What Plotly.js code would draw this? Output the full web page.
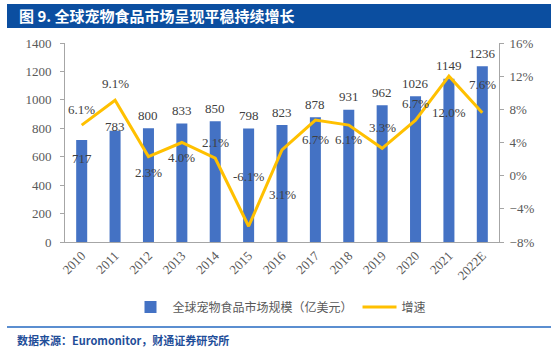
<!DOCTYPE html>
<html>
<head>
<meta charset="utf-8">
<script src="https://cdn.plot.ly/plotly-3.0.1.min.js"></script>
<style>html,body{margin:0;padding:0;background:#fff;}#chart{width:554px;height:348px;}</style>
</head>
<body>
<div id="chart"></div>
<script>
const years = ['2010','2011','2012','2013','2014','2015','2016','2017','2018','2019','2020','2021','2022E'];
const marketSize = [717, 783, 800, 833, 850, 798, 823, 878, 931, 962, 1026, 1149, 1236];
const growth = [6.1, 9.1, 2.3, 4.0, 2.1, -6.1, 3.1, 6.7, 6.1, 3.3, 6.7, 12.0, 7.6];
const barLabelShift = [-18, 4, 13, 13, 13, 13, 13, 13, 13, 13, 13, 13, 13];
const growthLabelShift = [16, 17, -16, -15, 16, 50, -45, -19, -14, 21, 17, -36, 28];

const seriesNames = ['全球宠物食品市场规模（亿美元）', '增速'];
const titleText = '图 9. 全球宠物食品市场呈现平稳持续增长';
const sourceText = '数据来源：Euromonitor，财通证券研究所';

const serif = 'Liberation Serif, Times New Roman, serif';
const cjk = 'Noto Sans CJK SC, sans-serif';

const traces = [
  {type:'bar', x: years, y: marketSize, name: seriesNames[0], marker:{color:'#4472C4'}, width:0.33, yaxis:'y', hoverinfo:'skip'},
  {type:'scatter', mode:'lines', x: years, y: growth, name: seriesNames[1], line:{color:'#FFC000', width:3}, yaxis:'y2', hoverinfo:'skip'}
];

// plot area in px: x 65..499, y 43..242
const px = v => (v - 65) / 434;
const py = v => (242 - v) / 199;

const annotations = [];
years.forEach((yr, i) => {
  annotations.push({x: i, y: marketSize[i], xref:'x', yref:'y', text: String(marketSize[i]), showarrow:false,
    yanchor:'middle', yshift: barLabelShift[i], font:{family: serif, size:13, color:'#404040'}});
  annotations.push({x: i, y: growth[i], xref:'x', yref:'y2', text: growth[i].toFixed(1) + '%', showarrow:false,
    yanchor:'middle', yshift: growthLabelShift[i], font:{family: serif, size:13, color:'#404040'}});
});
annotations.push({x: px(17), y: py(16), xref:'paper', yref:'paper', xanchor:'left', yanchor:'middle', showarrow:false,
  text: '<b>' + titleText + '</b>', font:{family: cjk, size:15, color:'#ffffff'}});
annotations.push({x: px(15), y: py(340), xref:'paper', yref:'paper', xanchor:'left', yanchor:'middle', showarrow:false,
  text: '<b>' + sourceText + '</b>', font:{family: cjk, size:11, color:'#1F4E99'}});

const layout = {
  width: 554, height: 348,
  margin: {l:65, r:55, t:43, b:106, pad:0},
  paper_bgcolor:'#ffffff', plot_bgcolor:'#ffffff',
  showlegend: true,
  legend: {orientation:'h', x: px(280), xanchor:'center', y: py(307), yanchor:'middle',
    font:{family: cjk, size:12, color:'#595959'}, itemwidth:34, traceorder:'normal'},
  xaxis: {type:'category', tickangle:-45, showline:true, linecolor:'#A6A6A6', linewidth:1,
    ticks:'', showgrid:false, zeroline:false, tickfont:{family: serif, size:13, color:'#595959'}},
  yaxis: {range:[0,1400], dtick:200, showline:true, linecolor:'#A6A6A6', linewidth:1, ticks:'outside', ticklen:4,
    tickcolor:'#A6A6A6', showgrid:false, zeroline:false, tickfont:{family: serif, size:13, color:'#595959'}, ticklabelstandoff:6},
  yaxis2: {range:[-8,16], dtick:4, overlaying:'y', side:'right', ticksuffix:'%', showline:true, linecolor:'#A6A6A6',
    linewidth:1, ticks:'outside', ticklen:4, tickcolor:'#A6A6A6', showgrid:false, zeroline:false,
    tickfont:{family: serif, size:13, color:'#595959'}, ticklabelstandoff:3},
  shapes: [
    {type:'rect', xref:'paper', yref:'paper', x0: px(7), x1: px(551), y0: py(28), y1: py(4), fillcolor:'#0B4EA0', line:{width:0}, layer:'below'},
    {type:'line', xref:'paper', yref:'paper', x0: px(7), x1: px(551), y0: py(327), y1: py(327), line:{color:'#5B8ED0', width:2}}
  ],
  annotations: annotations
};

Plotly.newPlot('chart', traces, layout, {displayModeBar:false, staticPlot:true});
</script>
</body>
</html>
